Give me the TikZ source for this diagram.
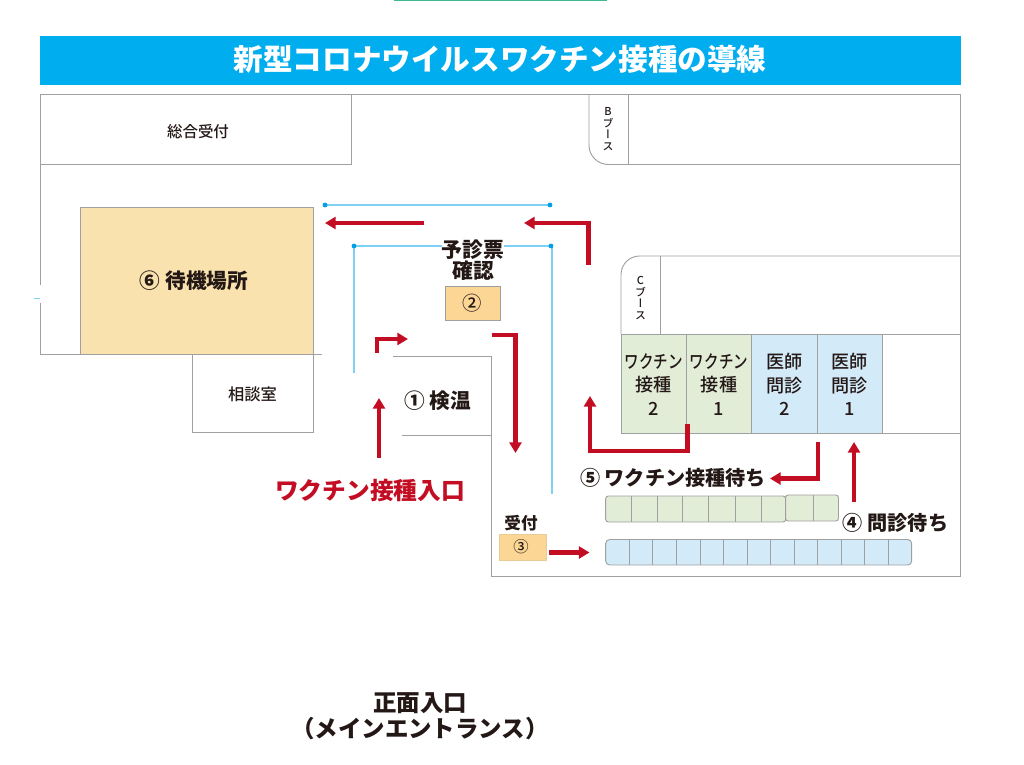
\documentclass[tikz,border=0pt]{standalone}
\usepackage{fontspec}
\usepackage{graphicx}
\usetikzlibrary{arrows.meta}
\setmainfont{Noto Sans CJK JP}
\newfontfamily\vertjp[RawFeature=+vert]{Noto Sans CJK JP Medium}
\newfontfamily\medjp{Noto Sans CJK JP Medium}
\definecolor{titleblue}{HTML}{00ADEE}
\definecolor{wall}{HTML}{A0A0A0}
\definecolor{ink}{HTML}{231815}
\definecolor{flow}{HTML}{C30D23}
\definecolor{rail}{HTML}{7FD0F2}
\definecolor{raildot}{HTML}{00A0E9}
\definecolor{greencell}{HTML}{E2EDD8}
\definecolor{bluecell}{HTML}{D3EAF8}
\definecolor{orangebox}{HTML}{FBD694}
\definecolor{waitarea}{HTML}{FAE2AE}
\definecolor{topline}{HTML}{3CB98F}
\tikzset{
  wallline/.style={draw=wall,line width=.7pt},
  flowarrow/.style={draw=flow,line width=3.2pt,-{Triangle[length=8pt,width=9pt]}},
  railline/.style={draw=rail,line width=.8pt},
  railthick/.style={draw=rail,line width=1.1pt},
  raildotmark/.style={circle,fill=raildot,inner sep=0pt,minimum size=3.6pt},
  lbl/.style={inner sep=0pt,text=ink,align=center},
  orange/.style={draw=wall,fill=orangebox,line width=.7pt},
  cellgreen/.style={draw=wall,fill=greencell,line width=.7pt},
  cellblue/.style={draw=wall,fill=bluecell,line width=.7pt},
}
\begin{document}
\begin{tikzpicture}[x=.75pt,y=-.75pt]
\useasboundingbox (0,0) rectangle (1024,764);
% top strip and title
\draw[draw=topline,line width=1.2pt] (394,0.5) -- (607,0.5);
\fill[titleblue] (40,36) rectangle (960.5,85);
\node[lbl,text=white,font=\fontsize{22.2}{24}\selectfont\bfseries] (title) at (500,59.5) {新型コロナウイルスワクチン接種の導線};
% coloured areas
\fill[waitarea] (80.5,207.5) rectangle (313,354);
\draw[wallline] (80.5,354) -- (80.5,207.5) -- (313,207.5) -- (313,432.5) -- (192.5,432.5) -- (192.5,354);
\draw[cellgreen] (621,334) rectangle (686,433);
\draw[cellgreen] (686,334) rectangle (751.5,433);
\draw[cellblue] (751.5,334) rectangle (817,433);
\draw[cellblue] (817,334) rectangle (882,433);
% walls
\draw[wallline] (40,285) -- (40,94.5) -- (960.5,94.5) -- (960.5,576.5) -- (491,576.5) -- (491,356) -- (393,356);
\draw[wallline] (402,435) -- (491,435);
\draw[wallline] (40,303) -- (40,354) -- (322,354);
\draw[wallline] (351,94.5) -- (351,164.5) -- (40,164.5);
\draw[wallline,rounded corners=14.5pt] (589,94.5) -- (589,164.5) -- (960.5,164.5);
\draw[wallline] (628.5,94.5) -- (628.5,164.5);
\draw[wallline,rounded corners=14pt] (621,334) -- (621,256) -- (960.5,256);
\draw[wallline] (660.5,256) -- (660.5,334);
\draw[wallline] (882,334) -- (960.5,334);
\draw[wallline] (882,433) -- (960.5,433);
\draw[draw=rail,line width=1pt] (34,298.5) -- (40,298.5);
% rails
\draw[railline] (325,205) -- (550,205);
\node[raildotmark] (r1) at (325,205) {};
\node[raildotmark] (r2) at (550,205) {};
\draw[railthick] (354,373) -- (354,246) -- (552,246) -- (552,494);
\node[raildotmark] (r3) at (354,246) {};
\node[raildotmark] (r4) at (551,246) {};
% boxes
\draw[orange] (445,286.5) rectangle (500,320);
\draw[orange,draw=orangebox!80!wall] (499.5,534) rectangle (546,560);
% queues
\draw[cellgreen,rounded corners=2pt] (785.5,495) rectangle (838.5,521);
\draw[cellgreen,rounded corners=2pt] (605.7,496) rectangle (785.7,522);
\foreach \xx in {631.7,657.7,682.7,708.7,735,761} \draw[wall,line width=.7pt] (\xx,496) -- (\xx,522);
\draw[wall,line width=.7pt] (813,495) -- (813,521);
\draw[cellblue,rounded corners=3pt] (605.7,539.5) rectangle (911.7,565);
\foreach \xx in {629.7,652.7,676.7,700.3,723.7,747.3,770.7,794.3,817.7,841.3,864.7,888} \draw[wall,line width=.7pt] (\xx,539.5) -- (\xx,565);
% flow arrows
\draw[flowarrow] (424,223) -- (325,223);
\draw[flowarrow] (588.5,265) -- (588.5,223) -- (524,223);
\draw[flowarrow] (377,353) -- (377,339) -- (408,339);
\draw[flowarrow] (491.5,335) -- (515.5,335) -- (515.5,453);
\draw[flowarrow] (379,458) -- (379,398);
\draw[flowarrow] (549,552.5) -- (589.5,552.5);
\draw[flowarrow] (687.5,424) -- (687.5,451) -- (590,451) -- (590,396);
\draw[flowarrow] (818,442) -- (818,478.5) -- (770,478.5);
\draw[flowarrow] (854,502) -- (854,442);
% labels
\node[lbl,font=\fontsize{11.6}{13}\medjp] (soumu) at (198,131.5) {総合受付};
\node[lbl,font=\fontsize{8.2}{8.6}\vertjp] (bbooth) at (608,129) {B\\ブ\\ー\\ス};
\node[lbl,font=\fontsize{8.2}{8.8}\vertjp] (cbooth) at (640.5,298) {C\\ブ\\ー\\ス};
\node[lbl,font=\fontsize{15.5}{17}\selectfont\bfseries] (wait) at (194,281) {⑥ 待機場所};
\node[lbl,fill=white,font=\fontsize{15.6}{15.7}\selectfont\bfseries] (yoshin) at (473,260) {予診票\\確認};
\node[lbl,font=\fontsize{14.5}{16}\medjp] (n2) at (472.5,303) {②};
\node[lbl,font=\fontsize{15.5}{17}\selectfont\bfseries] (n1) at (437.5,401) {① 検温};
\node[lbl,text=flow,font=\fontsize{17.8}{20}\selectfont\bfseries] (entry) at (370,491) {ワクチン接種入口};
\node[lbl,font=\fontsize{12.4}{14}\selectfont\bfseries] (uke) at (521,523) {受付};
\node[lbl,font=\fontsize{11.5}{13}\medjp] (n3) at (521,547) {③};
\node[lbl,font=\fontsize{15.1}{17}\selectfont\bfseries] (n5) at (673,478) {⑤ ワクチン接種待ち};
\node[lbl,font=\fontsize{15.1}{17}\selectfont\bfseries] (n4) at (895.5,523) {④ 問診待ち};
\node[lbl,font=\fontsize{13.6}{17.6}\medjp] (v2) at (653.5,384.5) {\scalebox{.8}[1]{ワクチン}\\接種\\2};
\node[lbl,font=\fontsize{13.6}{17.6}\medjp] (v1) at (719,384.5) {\scalebox{.8}[1]{ワクチン}\\接種\\1};
\node[lbl,font=\fontsize{13.6}{17.6}\medjp] (d2) at (784.5,384.5) {医師\\問診\\2};
\node[lbl,font=\fontsize{13.6}{17.6}\medjp] (d1) at (849.5,384.5) {医師\\問診\\1};
\node[lbl,font=\fontsize{12.2}{14}\medjp] (soudan) at (252.5,394.5) {相談室};
\node[lbl,font=\fontsize{17.6}{19.5}\selectfont\bfseries] (main) at (420,716) {正面入口\\（メインエントランス）};
\end{tikzpicture}
\end{document}
